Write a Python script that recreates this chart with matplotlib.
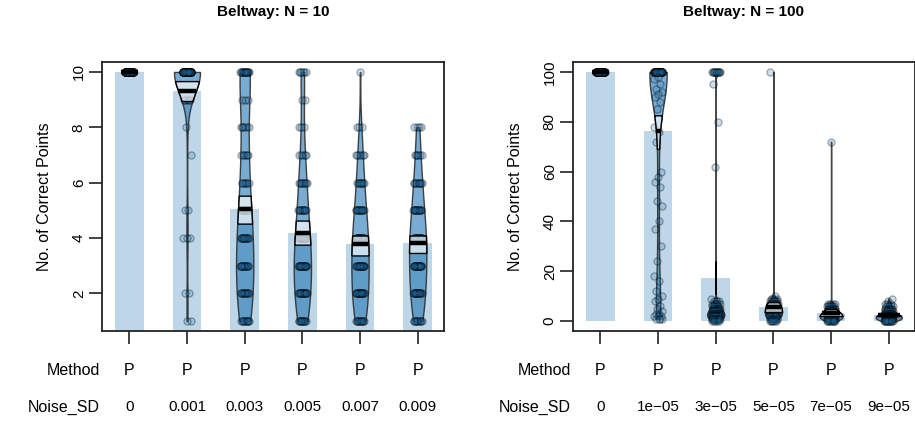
import numpy as np
import matplotlib
matplotlib.use("Agg")
import matplotlib.pyplot as plt

plt.rcParams['font.family'] = ['Liberation Sans', 'DejaVu Sans']

# ---- values ----
methods = ["P", "P", "P", "P", "P", "P"]
noise_n10 = ["0", "0.001", "0.003", "0.005", "0.007", "0.009"]
noise_n100 = ["0", "1e\u221205", "3e\u221205", "5e\u221205", "7e\u221205", "9e\u221205"]

# runs per number of correct points ({value: count}), 100 runs per setting
runs_n10 = [
    {10: 100},
    {10: 84, 9: 5, 8: 1, 7: 1, 5: 2, 4: 3, 2: 2, 1: 2},
    {10: 17, 9: 3, 8: 6, 7: 6, 6: 7, 5: 10, 4: 13, 3: 14, 2: 13, 1: 11},
    {10: 6, 9: 2, 8: 3, 7: 5, 6: 9, 5: 11, 4: 16, 3: 19, 2: 17, 1: 12},
    {10: 1, 8: 3, 7: 6, 6: 9, 5: 13, 4: 18, 3: 19, 2: 18, 1: 13},
    {8: 4, 7: 6, 6: 10, 5: 14, 4: 19, 3: 19, 2: 17, 1: 11},
]
runs_n100 = [
    {100: 100},
    {100: 60, 98: 1, 97: 1, 95: 1, 93: 1, 92: 1, 91: 1, 90: 1, 88: 1, 85: 1,
     78: 1, 76: 1, 72: 1, 60: 1, 58: 1, 56: 1, 54: 1, 48: 1, 46: 1, 40: 1,
     37: 1, 30: 1, 24: 1, 18: 1, 16: 1, 12: 1, 10: 1, 9: 1, 8: 1, 6: 1,
     5: 1, 4: 1, 3: 2, 2: 3, 1: 4},
    {100: 12, 95: 1, 80: 1, 62: 1, 9: 1, 8: 4, 7: 5, 6: 6, 5: 9, 4: 12,
     3: 15, 2: 16, 1: 12, 0: 5},
    {100: 1, 10: 1, 9: 4, 8: 7, 7: 10, 6: 12, 5: 12, 4: 13, 3: 14, 2: 12,
     1: 8, 0: 6},
    {72: 1, 7: 4, 6: 7, 5: 8, 4: 12, 3: 18, 2: 20, 1: 20, 0: 10},
    {9: 1, 8: 1, 7: 3, 6: 5, 5: 7, 4: 9, 3: 14, 2: 22, 1: 24, 0: 14},
]

means_n10 = [10.0, 9.3, 5.06, 4.19, 3.77, 3.83]
ci_lo_n10 = [10.0, 8.95, 4.52, 3.76, 3.37, 3.46]
ci_hi_n10 = [10.0, 9.67, 5.53, 4.63, 4.09, 4.09]

means_n100 = [100.0, 76.1, 17.3, 5.6, 3.4, 2.4]
ci_lo_n100 = [100.0, 69.1, 10.9, 3.6, 2.0, 2.0]
ci_hi_n100 = [100.0, 82.6, 23.9, 7.6, 4.8, 2.9]

BAR_COL = (190 / 255, 215 / 255, 232 / 255)
BEAN_COL = (32 / 255, 118 / 255, 180 / 255, 0.6)
PT_FACE = (32 / 255, 118 / 255, 180 / 255, 0.22)
PT_EDGE = (0, 0, 0, 0.33)
DARK = "#222222"


def expand(d):
    vals = []
    for v, c in d.items():
        vals += [v] * c
    return np.array(vals, dtype=float)


def bw_nrd0(x):
    hi = np.std(x, ddof=1)
    iqr = np.subtract(*np.percentile(x, [75, 25]))
    lo = min(hi, iqr / 1.34)
    if not lo:
        lo = hi or abs(x[0]) or 1.0
    return 0.9 * lo * len(x) ** -0.2


def density(x):
    bw = bw_nrd0(x)
    yy = np.linspace(x.min(), x.max(), 512)
    d = np.exp(-0.5 * ((yy[:, None] - x[None, :]) / bw) ** 2).sum(axis=1)
    d /= len(x) * bw * np.sqrt(2 * np.pi)
    return yy, d


def jitter(n, k):
    # spread points sideways in a fixed pattern
    return ((np.arange(n) * 0.6180339 + 0.37 * k) % 1.0 - 0.5) * 0.15


def pirate(ax, runs, means, lo, hi, ylim, yticks):
    pos = np.arange(1, len(runs) + 1)
    ax.bar(pos, means, width=0.5, color=BAR_COL, zorder=1)

    beans = []
    for d in runs:
        x = expand(d)
        if x.std() == 0:
            beans.append(None)
        else:
            beans.append(density(x))
    dmax = max(b[1].max() for b in beans if b is not None)

    for i, d in enumerate(runs):
        p = pos[i]
        x = expand(d)
        b = beans[i]
        if b is not None:
            yy, dd = b
            w = dd / dmax * 0.225
            if w.max() < 0.15:
                w = w / w.max() * 0.15
            ax.fill_betweenx(yy, p - w, p + w, facecolor=BEAN_COL,
                             edgecolor=(0.15, 0.15, 0.15, 0.85), lw=1.0, zorder=2)
        xs = p + jitter(len(x), i)
        ax.scatter(xs, x, s=26, facecolor=PT_FACE, edgecolor=PT_EDGE,
                   linewidths=0.9, zorder=3)
        if b is not None:
            yb = np.linspace(lo[i], hi[i], 100)
            wb = np.interp(yb, yy, w)
            ax.fill_betweenx(yb, p - wb, p + wb, facecolor=(1, 1, 1, 0.68),
                             edgecolor="black", lw=1.0, zorder=4)
            wm = np.interp(means[i], yy, w)
        else:
            wm = 0.15
        ax.plot([p - wm, p + wm], [means[i], means[i]], color="black",
                lw=3.2, solid_capstyle="butt", zorder=5)

    ax.set_xlim(0.52, 6.46)
    ax.set_ylim(*ylim)
    ax.set_xticks(pos)
    ax.set_xticklabels([])
    ax.set_yticks(yticks)
    ax.set_yticklabels([str(t) for t in yticks], rotation=90, va="center",
                       fontsize=11)
    ax.tick_params(length=9.4, width=1.2, color=DARK, pad=2)
    for s in ax.spines.values():
        s.set_linewidth(1.3)
        s.set_color(DARK)


fig = plt.figure(figsize=(9.15, 4.23), dpi=100)
ax1 = fig.add_axes([0.1111, 0.2175, 0.3744, 0.6359])
ax2 = fig.add_axes([0.6259, 0.2175, 0.3744, 0.6359])

pirate(ax1, runs_n10, means_n10, ci_lo_n10, ci_hi_n10, (0.64, 10.36),
       [2, 4, 6, 8, 10])
pirate(ax2, runs_n100, means_n100, ci_lo_n100, ci_hi_n100, (-4, 104),
       [0, 20, 40, 60, 80, 100])

for ax, title, labels in [(ax1, "Beltway: N = 10", noise_n10),
                          (ax2, "Beltway: N = 100", noise_n100)]:
    ax.text(0.5, 1.186, title, transform=ax.transAxes, ha="center",
            va="center", fontsize=11, fontweight="bold")
    ax.text(-0.166, 0.5, "No. of Correct Points", transform=ax.transAxes,
            rotation=90, ha="center", va="center", fontsize=11.5)
    tr = ax.get_xaxis_transform()
    ax.text(0.49, -0.145, "Method", transform=tr, ha="right", va="center",
            fontsize=11.5)
    ax.text(0.49, -0.2825, "Noise_SD", transform=tr, ha="right", va="center",
            fontsize=11.5)
    for i in range(6):
        ax.text(i + 1, -0.145, methods[i], transform=tr, ha="center",
                va="center", fontsize=11.5)
        ax.text(i + 1, -0.2825, labels[i], transform=tr, ha="center",
                va="center", fontsize=11)

fig.savefig("out.png", dpi=100)
